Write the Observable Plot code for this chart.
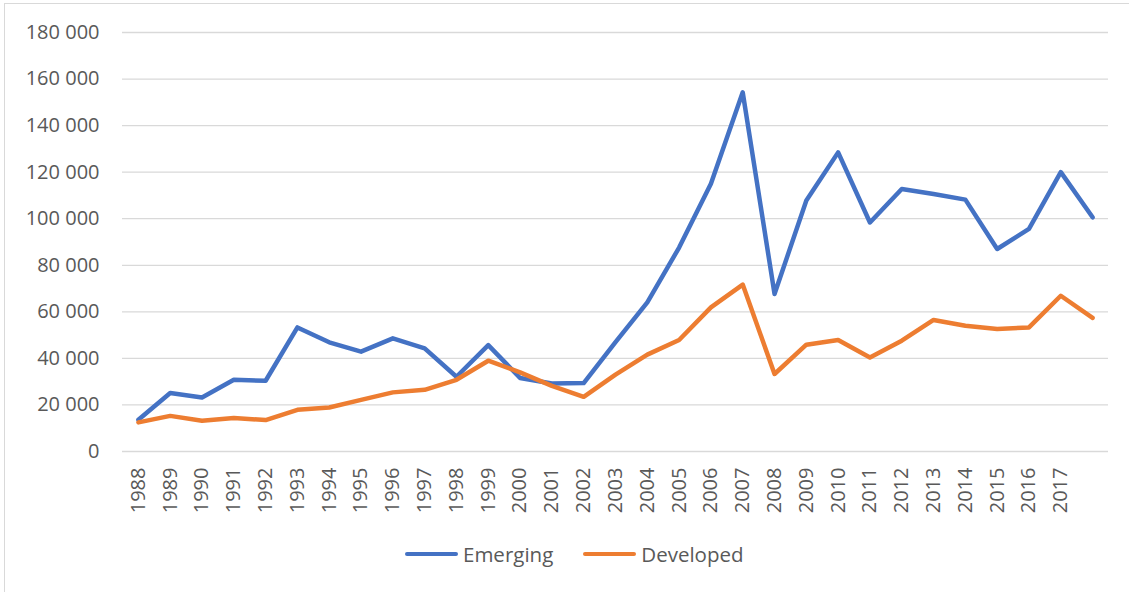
<!DOCTYPE html>
<html>
<head>
<meta charset="utf-8">
<script src="https://cdn.jsdelivr.net/npm/d3@7"></script>
<script src="https://cdn.jsdelivr.net/npm/@observablehq/plot@0.6"></script>
<style>
  html, body { margin: 0; padding: 0; background: #fff; }
  body { width: 1129px; height: 592px; overflow: hidden; position: relative; font-family: "Open Sans", sans-serif; }
  #frame { position: absolute; left: 4px; top: 3px; width: 1140px; height: 600px; border: 1px solid #d9d9d9; box-sizing: border-box; }
  #chart { position: absolute; left: 0; top: 0; }
  #legend { position: absolute; left: 405px; top: 540px; display: flex; align-items: center; font-size: 20.5px; color: #595959; }
  .item { display: flex; align-items: center; }
  .item + .item { margin-left: 30px; }
  .swatch { width: 53px; height: 4.5px; border-radius: 3px; margin-right: 5px; }
</style>
</head>
<body>
<div id="frame"></div>
<div id="chart"></div>
<div id="legend"></div>
<script>
const categories = ["1988","1989","1990","1991","1992","1993","1994","1995","1996","1997","1998","1999","2000","2001","2002","2003","2004","2005","2006","2007","2008","2009","2010","2011","2012","2013","2014","2015","2016","2017",""];
const emerging = [13600,25100,23200,30800,30400,53300,46900,42900,48600,44300,32100,45700,31600,29200,29400,47000,64100,87600,115000,154300,67700,107800,128500,98400,112800,110600,108200,87000,95600,120000,100600];
const developed = [12500,15300,13200,14400,13500,17900,18900,22200,25400,26500,30800,39000,34000,28200,23500,33000,41600,47900,61900,71700,33300,45900,47900,40400,47600,56500,54000,52600,53300,66900,57400];
const seriesNames = ["Emerging","Developed"];
const seriesColors = ["#4472C4","#ED7D31"];
const yTicks = [0,20000,40000,60000,80000,100000,120000,140000,160000,180000];

const rows = [];
categories.forEach((c,i) => {
  rows.push({cat: c, value: emerging[i], series: seriesNames[0]});
  rows.push({cat: c, value: developed[i], series: seriesNames[1]});
});

const fmt = v => d3.format(",")(v).replace(/,/g, " ");

const plot = Plot.plot({
  width: 1129,
  height: 530,
  marginLeft: 122,
  marginRight: 21,
  marginTop: 32,
  marginBottom: 79,
  style: {fontFamily: "'Open Sans', sans-serif", fontSize: "20px", color: "#595959", background: "transparent"},
  x: {type: "point", domain: categories, padding: 0.5, round: false},
  y: {domain: [0, 180000]},
  color: {domain: seriesNames, range: seriesColors},
  marks: [
    Plot.ruleY(yTicks, {stroke: "#d9d9d9", strokeWidth: 1.3}),
    Plot.axisY({ticks: yTicks, tickFormat: fmt, tickSize: 0, tickPadding: 23, label: null, fill: "#595959"}),
    Plot.axisX({tickRotate: -90, tickSize: 0, tickPadding: 16, label: null, fill: "#595959"}),
    Plot.line(rows, {x: "cat", y: "value", z: "series", stroke: "series", strokeWidth: 4.5, strokeLinejoin: "round", strokeLinecap: "round"})
  ]
});
document.getElementById("chart").appendChild(plot);

const legend = document.getElementById("legend");
seriesNames.forEach((n,i) => {
  const it = document.createElement("div");
  it.className = "item";
  const sw = document.createElement("div");
  sw.className = "swatch";
  sw.style.background = seriesColors[i];
  const tx = document.createElement("span");
  tx.textContent = n;
  it.appendChild(sw); it.appendChild(tx);
  legend.appendChild(it);
});
</script>
</body>
</html>
